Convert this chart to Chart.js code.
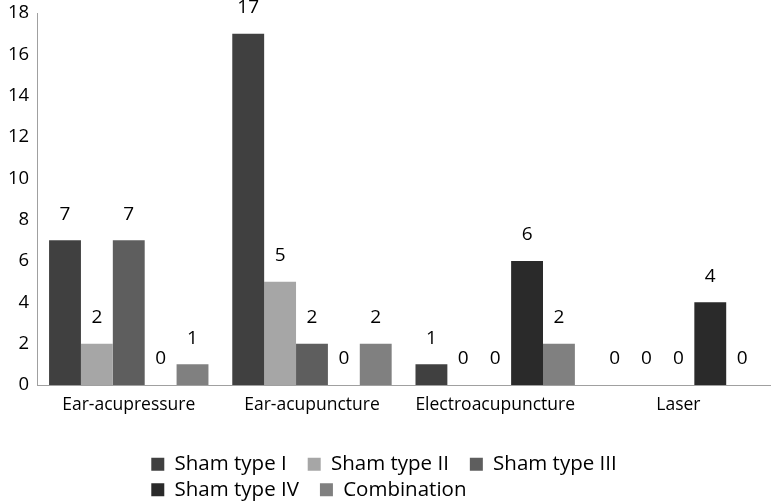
<!DOCTYPE html>
<html>
<head>
<meta charset="utf-8">
<script src="https://cdn.jsdelivr.net/npm/chart.js@4/dist/chart.umd.min.js"></script>
<style>
  html, body { margin: 0; padding: 0; background: #fff; }
  #wrap { width: 774px; height: 502px; }
</style>
</head>
<body>
<div id="wrap"><canvas id="chart"></canvas></div>
<script>
var categories = ['Ear-acupressure', 'Ear-acupuncture', 'Electroacupuncture', 'Laser'];
var shamI = [7, 17, 1, 0];
var shamII = [2, 5, 0, 0];
var shamIII = [7, 2, 0, 0];
var shamIV = [0, 0, 6, 4];
var combination = [1, 2, 2, 0];
var yTicks = [0, 2, 4, 6, 8, 10, 12, 14, 16, 18];

var FONT = '"Open Sans", sans-serif';

// value labels on top of every bar (zeros too)
var valueLabels = {
    id: 'valueLabels',
    afterDatasetsDraw: function(chart) {
        var ctx = chart.ctx;
        ctx.save();
        ctx.font = '19px ' + FONT;
        ctx.fillStyle = '#000';
        ctx.textAlign = 'center';
        ctx.textBaseline = 'middle';
        chart.data.datasets.forEach(function(ds, i) {
            chart.getDatasetMeta(i).data.forEach(function(bar, j) {
                ctx.fillText(ds.data[j], bar.x, bar.y - 26);
            });
        });
        ctx.restore();
    }
};

// legend: wrap after 3 items and keep rows left aligned, like the original
var legendRows = {
    id: 'legendRows',
    beforeLayout: function(chart) {
        var lg = chart.legend;
        if (lg && !lg._wrapPatched) {
            var fitRows = lg._fitRows;
            lg._fitRows = function(a, b, c, d) {
                var mw = this.maxWidth;
                this.maxWidth = 540;
                var r = fitRows.call(this, a, b, c, d);
                this.maxWidth = mw;
                return r;
            };
            lg._wrapPatched = true;
        }
    },
    beforeDraw: function(chart) {
        var lg = chart.legend;
        if (lg && lg.lineWidths) {
            var m = Math.max.apply(null, lg.lineWidths) - 14;
            lg.lineWidths = lg.lineWidths.map(function() { return m; });
        }
    }
};

new Chart(document.getElementById('chart'), {
    type: 'bar',
    data: {
        labels: categories,
        datasets: [
            { label: 'Sham type I', data: shamI, backgroundColor: '#404040' },
            { label: 'Sham type II', data: shamII, backgroundColor: '#a6a6a6' },
            { label: 'Sham type III', data: shamIII, backgroundColor: '#5e5e5e' },
            { label: 'Sham type IV', data: shamIV, backgroundColor: '#2a2a2a' },
            { label: 'Combination', data: combination, backgroundColor: '#808080' }
        ]
    },
    options: {
        responsive: true,
        maintainAspectRatio: false,
        animation: false,
        layout: { padding: { top: 13, right: 4, left: 0, bottom: -8 } },
        datasets: { bar: { barPercentage: 1, categoryPercentage: 0.87 } },
        scales: {
            x: {
                grid: { display: false, drawTicks: false },
                border: { color: '#a0a0a0', width: 1 },
                ticks: { font: { family: FONT, size: 17.5 }, color: '#000', padding: 10 },
                afterFit: function(scale) { scale.height = 64; }
            },
            y: {
                min: 0,
                max: 18,
                afterBuildTicks: function(axis) {
                    axis.ticks = yTicks.map(function(v) { return { value: v }; });
                },
                afterFit: function(scale) { scale.paddingTop = 0; },
                grid: { display: false, drawTicks: false },
                border: { color: '#a0a0a0', width: 1 },
                ticks: { font: { family: FONT, size: 18.5 }, color: '#000', padding: 8 }
            }
        },
        plugins: {
            tooltip: { enabled: false },
            legend: {
                position: 'bottom',
                labels: {
                    font: { family: FONT, size: 20.5 },
                    color: '#000',
                    boxWidth: 13,
                    boxHeight: 13,
                    padding: 5,
                    generateLabels: function(chart) {
                        return Chart.defaults.plugins.legend.labels.generateLabels(chart).map(function(it) {
                            it.text = it.text + '   ';
                            return it;
                        });
                    }
                }
            }
        }
    },
    plugins: [valueLabels, legendRows]
});
</script>
</body>
</html>
